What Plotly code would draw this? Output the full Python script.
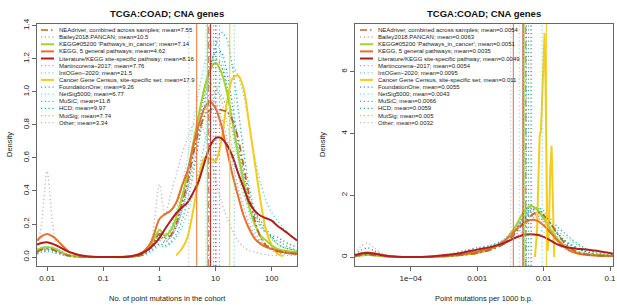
import plotly.graph_objects as go

TITLE = "TCGA:COAD; CNA genes"
XTITLE_LEFT = "No. of point mutations in the cohort"
XTITLE_RIGHT = "Point mutations per 1000 b.p."
YTITLE = "Density"

SERIES = ["NEAdriver, combined across samples", "Bailey2018.PANCAN",
          "KEGG#05200 'Pathways_in_cancer'", "KEGG, 5 general pathways",
          "Literature/KEGG site-specific pathway", "Martincorena\u22122017",
          "IntOGen\u22122020", "Cancer Gene Census, site-specific set",
          "FoundationOne", "NetSig5000", "MuSiC", "HCD", "MutSig", "Other"]
MEANS_LEFT = [7.55, 10.5, 7.14, 4.62, 8.16, 7.76, 21.5, 17.9, 9.26, 6.77, 11.8, 9.97, 7.74, 3.34]
MEANS_RIGHT = [0.0054, 0.0063, 0.0051, 0.0035, 0.0049, 0.0054, 0.0095, 0.011,
               0.0055, 0.0043, 0.0066, 0.0059, 0.005, 0.0032]

COLORS = ["#B8692A", "#A796AE", "#A2D42E", "#E8702A", "#B01E1E", "#D58CC8",
          "#5ED6D6", "#F5CC1A", "#4A8FD8", "#7ADCE4", "#3BB4A4", "#2EA872",
          "#8ED86C", "#BDBDBD"]
STYLES = ["dashdot", "dot", "solid", "solid", "solid", "dot", "dot", "solid",
          "dot", "dot", "dot", "dot", "dot", "dot"]

# ---- left panel: density of log10(no. of mutations) ----
GRID_LEFT_LOG = [-2.18, -2.1, -2.0, -1.9, -1.8, -1.6, -1.3, -1.0, -0.5, -0.3, -0.15, 0.0,
                 0.1, 0.2, 0.3, 0.4, 0.5, 0.6, 0.7, 0.8, 0.9, 1.0, 1.1, 1.2, 1.3, 1.4,
                 1.5, 1.6, 1.7, 1.8, 1.9, 2.0, 2.1, 2.2, 2.3, 2.45]

LEFT_NEADRIVER = [0.03, 0.045, 0.05, 0.045, 0.03, 0.008, 0, 0, 0.002, 0.015, 0.06, 0.14, 0.12, 0.13,
                  0.2, 0.32, 0.45, 0.62, 0.76, 0.85, 0.89, 0.9, 0.89, 0.88, 0.83, 0.72, 0.55, 0.37,
                  0.22, 0.12, 0.07, 0.05, 0.035, 0.03, 0.025, 0.02]
LEFT_BAILEY = [0.03, 0.04, 0.045, 0.04, 0.03, 0.008, 0, 0, 0.002, 0.02, 0.06, 0.12, 0.1, 0.12, 0.18,
               0.28, 0.4, 0.55, 0.7, 0.85, 0.96, 1.0, 0.98, 0.9, 0.76, 0.6, 0.44, 0.3, 0.19, 0.12,
               0.08, 0.05, 0.04, 0.03, 0.02, 0.02]
LEFT_KEGG05200 = [0.04, 0.055, 0.06, 0.055, 0.04, 0.01, 0, 0, 0.002, 0.02, 0.07, 0.165, 0.13, 0.16,
                  0.24, 0.36, 0.5, 0.68, 0.86, 1.02, 1.13, 1.175, 1.12, 1.0, 0.82, 0.63, 0.46, 0.3,
                  0.2, 0.13, 0.1, 0.07, 0.05, 0.04, 0.035, 0.03]
LEFT_KEGG5 = [0.10, 0.125, 0.14, 0.125, 0.095, 0.03, 0.003, 0, 0.005, 0.03, 0.09, 0.23, 0.26, 0.28,
              0.33, 0.43, 0.52, 0.67, 0.8, 0.9, 0.94, 0.9, 0.8, 0.65, 0.5, 0.37, 0.25, 0.17, 0.11,
              0.08, 0.06, 0.05, 0.04, 0.03, 0.025, 0.02]
LEFT_LITERATURE = [0.075, 0.085, 0.09, 0.08, 0.065, 0.03, 0.005, 0, 0.005, 0.025, 0.06, 0.115, 0.17,
                   0.22, 0.265, 0.3, 0.33, 0.39, 0.46, 0.57, 0.67, 0.72, 0.72, 0.68, 0.61, 0.51,
                   0.42, 0.33, 0.28, 0.25, 0.235, 0.22, 0.19, 0.165, 0.14, 0.10]
LEFT_MARTINCORENA = [0.03, 0.045, 0.05, 0.045, 0.03, 0.008, 0, 0, 0.002, 0.02, 0.07, 0.15, 0.13, 0.16,
                     0.24, 0.36, 0.5, 0.65, 0.8, 0.9, 0.95, 0.93, 0.85, 0.72, 0.57, 0.42, 0.3, 0.2,
                     0.13, 0.09, 0.06, 0.04, 0.03, 0.02, 0.02, 0.015]
LEFT_INTOGEN = [0.02, 0.03, 0.035, 0.03, 0.02, 0.005, 0, 0, 0, 0.01, 0.03, 0.07, 0.06, 0.08, 0.12,
                0.18, 0.27, 0.38, 0.52, 0.68, 0.84, 0.98, 1.08, 1.14, 1.15, 1.1, 0.98, 0.8, 0.6,
                0.45, 0.34, 0.27, 0.22, 0.18, 0.14, 0.1]
LEFT_CGC = [None, None, None, None, None, None, None, None, None, None, None, None, None, None,
            0.01, 0.05, 0.12, 0.28, 0.47, 0.6, 0.6, 0.58, 0.7, 0.93, 1.08, 1.1, 1.02, 0.8, 0.57,
            0.34, 0.16, 0.07, 0.02, 0.005, None, None]
LEFT_FOUNDATIONONE = [0.03, 0.04, 0.045, 0.04, 0.03, 0.008, 0, 0, 0.002, 0.015, 0.05, 0.1, 0.09, 0.12,
                      0.18, 0.28, 0.42, 0.6, 0.8, 0.98, 1.14, 1.24, 1.24, 1.12, 0.92, 0.7, 0.5,
                      0.35, 0.25, 0.18, 0.15, 0.13, 0.12, 0.1, 0.08, 0.06]
LEFT_NETSIG = [0.04, 0.05, 0.055, 0.05, 0.035, 0.01, 0, 0, 0.002, 0.02, 0.07, 0.15, 0.13, 0.18, 0.28,
               0.42, 0.6, 0.8, 1.0, 1.16, 1.27, 1.3, 1.22, 1.05, 0.82, 0.6, 0.4, 0.26, 0.16, 0.1,
               0.07, 0.05, 0.04, 0.03, 0.02, 0.02]
LEFT_MUSIC = [0.02, 0.03, 0.035, 0.03, 0.02, 0.005, 0, 0, 0, 0.01, 0.04, 0.08, 0.07, 0.09, 0.14,
              0.22, 0.34, 0.5, 0.7, 0.92, 1.12, 1.28, 1.36, 1.32, 1.15, 0.9, 0.64, 0.42, 0.28, 0.2,
              0.15, 0.12, 0.1, 0.08, 0.06, 0.04]
LEFT_HCD = [0.04, 0.055, 0.06, 0.055, 0.04, 0.01, 0, 0, 0.002, 0.02, 0.06, 0.13, 0.11, 0.14, 0.21,
            0.32, 0.47, 0.65, 0.85, 1.02, 1.15, 1.2, 1.16, 1.03, 0.84, 0.64, 0.46, 0.34, 0.27,
            0.22, 0.17, 0.12, 0.08, 0.06, 0.05, 0.04]
LEFT_MUTSIG = [0.045, 0.06, 0.065, 0.06, 0.045, 0.012, 0, 0, 0.002, 0.025, 0.08, 0.16, 0.14, 0.17,
               0.25, 0.37, 0.52, 0.7, 0.87, 0.99, 1.05, 1.03, 0.95, 0.82, 0.66, 0.5, 0.38, 0.3,
               0.25, 0.2, 0.15, 0.11, 0.08, 0.06, 0.05, 0.04]
LEFT_OTHER = [0.05, 0.2, 0.52, 0.2, 0.04, 0.005, 0, 0, 0.005, 0.03, 0.1, 0.44, 0.25, 0.38, 0.5,
              0.62, 0.72, 0.8, 0.82, 0.76, 0.62, 0.47, 0.34, 0.24, 0.16, 0.1, 0.06, 0.04, 0.03,
              0.02, 0.015, 0.01, 0.01, 0.01, 0.01, 0.01]

# ---- right panel: density of log10(mutations per 1000 b.p.) ----
GRID_RIGHT_LOG = [-4.84, -4.75, -4.65, -4.55, -4.4, -4.2, -4.0, -3.7, -3.4, -3.2, -3.0, -2.8,
                  -2.6, -2.45, -2.3, -2.2, -2.1, -2.0, -1.9, -1.8, -1.7, -1.6, -1.5, -1.4,
                  -1.3, -1.2, -1.1, -0.955]

RIGHT_NEADRIVER = [0.03, 0.06, 0.08, 0.06, 0.03, 0.005, 0, 0.005, 0.03, 0.07, 0.13, 0.23, 0.42,
                   0.72, 1.1, 1.32, 1.45, 1.35, 1.1, 0.78, 0.5, 0.3, 0.17, 0.1, 0.07, 0.05, 0.04, 0.03]
RIGHT_BAILEY = [0.03, 0.06, 0.08, 0.06, 0.03, 0.005, 0, 0.01, 0.05, 0.1, 0.17, 0.3, 0.55, 0.9,
                1.25, 1.38, 1.35, 1.15, 0.88, 0.6, 0.4, 0.25, 0.15, 0.1, 0.07, 0.05, 0.04, 0.03]
RIGHT_KEGG05200 = [0.02, 0.05, 0.07, 0.05, 0.02, 0.005, 0, 0.005, 0.03, 0.07, 0.13, 0.25, 0.5,
                   0.9, 1.45, 1.65, 1.55, 1.25, 0.9, 0.6, 0.38, 0.22, 0.13, 0.09, 0.07, 0.06, 0.05, 0.03]
RIGHT_KEGG5 = [0.05, 0.12, 0.15, 0.12, 0.05, 0.01, 0, 0.01, 0.05, 0.1, 0.17, 0.28, 0.5, 0.8, 1.1,
               1.2, 1.18, 1.02, 0.8, 0.55, 0.35, 0.2, 0.12, 0.08, 0.06, 0.05, 0.04, 0.03]
RIGHT_LITERATURE = [0.06, 0.11, 0.13, 0.11, 0.05, 0.01, 0, 0.02, 0.08, 0.15, 0.24, 0.32, 0.45,
                    0.6, 0.72, 0.74, 0.72, 0.65, 0.54, 0.42, 0.34, 0.3, 0.27, 0.25, 0.23, 0.2,
                    0.16, 0.11]
RIGHT_MARTINCORENA = [0.03, 0.07, 0.09, 0.07, 0.03, 0.005, 0, 0.01, 0.05, 0.1, 0.16, 0.28, 0.5,
                      0.85, 1.2, 1.32, 1.28, 1.08, 0.82, 0.56, 0.36, 0.22, 0.13, 0.09, 0.06, 0.05,
                      0.04, 0.03]
RIGHT_INTOGEN = [0.02, 0.04, 0.05, 0.04, 0.02, 0.005, 0, 0.01, 0.04, 0.08, 0.14, 0.24, 0.42, 0.66,
                 0.98, 1.2, 1.32, 1.3, 1.12, 0.88, 0.7, 0.55, 0.4, 0.28, 0.18, 0.12, 0.08, 0.05]
RIGHT_FOUNDATIONONE = [0.08, 0.22, 0.3, 0.2, 0.06, 0.01, 0, 0.02, 0.1, 0.2, 0.3, 0.38, 0.55, 0.85,
                       1.25, 1.5, 1.55, 1.38, 1.08, 0.78, 0.55, 0.4, 0.28, 0.18, 0.12, 0.08, 0.06,
                       0.04]
RIGHT_NETSIG = [0.04, 0.09, 0.12, 0.09, 0.04, 0.01, 0, 0.02, 0.08, 0.16, 0.26, 0.36, 0.55, 0.9,
                1.3, 1.5, 1.45, 1.2, 0.9, 0.62, 0.42, 0.28, 0.18, 0.12, 0.08, 0.06, 0.05, 0.04]
RIGHT_MUSIC = [0.02, 0.05, 0.06, 0.05, 0.02, 0.005, 0, 0.01, 0.06, 0.14, 0.25, 0.36, 0.52, 0.8,
               1.2, 1.45, 1.6, 1.5, 1.25, 1.0, 0.8, 0.62, 0.45, 0.32, 0.22, 0.15, 0.1, 0.06]
RIGHT_HCD = [0.04, 0.08, 0.1, 0.08, 0.04, 0.01, 0, 0.01, 0.06, 0.12, 0.2, 0.3, 0.5, 0.85, 1.3,
             1.55, 1.58, 1.4, 1.1, 0.8, 0.58, 0.42, 0.3, 0.2, 0.14, 0.1, 0.08, 0.06]
RIGHT_MUTSIG = [0.05, 0.1, 0.12, 0.1, 0.05, 0.01, 0, 0.01, 0.05, 0.1, 0.18, 0.3, 0.52, 0.88, 1.35,
                1.6, 1.55, 1.3, 0.98, 0.68, 0.46, 0.3, 0.2, 0.14, 0.1, 0.08, 0.06, 0.05]
RIGHT_OTHER = [0.1, 0.35, 0.45, 0.3, 0.08, 0.01, 0, 0.02, 0.08, 0.15, 0.22, 0.3, 0.42, 0.6, 0.85,
               0.98, 0.95, 0.8, 0.6, 0.42, 0.28, 0.18, 0.12, 0.08, 0.06, 0.04, 0.03, 0.02]
# Cancer Gene Census: narrow spikes, its own sampling grid
RIGHT_CGC_LOG = [-2.13, -2.1, -2.08, -2.06, -2.04, -2.02, -2.0, -1.985, -1.97, -1.955, -1.94,
                 -1.92, -1.9, -1.88, -1.86, -1.84]
RIGHT_CGC = [0, 0.8, 2.4, 3.9, 4.1, 5.2, 6.8, 7.25, 5.5, 2.0, 0.2, 0.9, 2.8, 3.6, 1.5, 0]

LEFT_Y = [LEFT_NEADRIVER, LEFT_BAILEY, LEFT_KEGG05200, LEFT_KEGG5, LEFT_LITERATURE,
          LEFT_MARTINCORENA, LEFT_INTOGEN, LEFT_CGC, LEFT_FOUNDATIONONE, LEFT_NETSIG,
          LEFT_MUSIC, LEFT_HCD, LEFT_MUTSIG, LEFT_OTHER]
RIGHT_Y = [RIGHT_NEADRIVER, RIGHT_BAILEY, RIGHT_KEGG05200, RIGHT_KEGG5, RIGHT_LITERATURE,
           RIGHT_MARTINCORENA, RIGHT_INTOGEN, RIGHT_CGC, RIGHT_FOUNDATIONONE, RIGHT_NETSIG,
           RIGHT_MUSIC, RIGHT_HCD, RIGHT_MUTSIG, RIGHT_OTHER]

LEFT_TICKS = [0.01, 0.1, 1, 10, 100]
LEFT_TICKTEXT = ["0.01", "0.1", "1", "10", "100"]
RIGHT_TICKS = [1e-4, 1e-3, 1e-2, 1e-1]
RIGHT_TICKTEXT = ["1e\u221204", "0.001", "0.01", "0.1"]
LEFT_YTICKS = [0.0, 0.2, 0.4, 0.6, 0.8, 1.0, 1.2, 1.4]
RIGHT_YTICKS = [0, 2, 4, 6]

W, H = 617, 305
FONT = "Liberation Sans, Arial, sans-serif"
DASH = {"solid": "solid", "dot": "1.2px,2.6px", "dashdot": "7px,3px,1.5px,3px"}


def line_style(k, curve=True):
    st = STYLES[k]
    if st == "solid":
        return dict(color=COLORS[k], dash="solid", width=2 if curve else 1)
    if st == "dashdot":
        return dict(color=COLORS[k], dash=DASH[st], width=1.8 if curve else 1)
    return dict(color=COLORS[k], dash=DASH[st], width=1.4 if curve else 1.0)


fig = go.Figure()

# draw dotted series first, solid ones on top
order = [i for i in range(14) if STYLES[i] == "dot"] + [7, 2, 3, 0, 4]
for i in order:
    ls = line_style(i)
    xl = [10 ** v for v in GRID_LEFT_LOG]
    fig.add_trace(go.Scatter(x=xl, y=LEFT_Y[i], mode="lines", xaxis="x", yaxis="y",
                             line=dict(shape="spline", smoothing=0.8, **ls),
                             showlegend=False, hoverinfo="skip"))
    if i == 7:
        xr = [10 ** v for v in RIGHT_CGC_LOG]
        shp = "linear"
    else:
        xr = [10 ** v for v in GRID_RIGHT_LOG]
        shp = "spline"
    fig.add_trace(go.Scatter(x=xr, y=RIGHT_Y[i], mode="lines", xaxis="x2", yaxis="y2",
                             line=dict(shape=shp, smoothing=0.8, **ls),
                             showlegend=False, hoverinfo="skip"))

shapes = []
# mean lines (full height)
for i in range(14):
    ls = line_style(i, curve=False)
    shapes.append(dict(type="line", xref="x", yref="y domain", x0=MEANS_LEFT[i], x1=MEANS_LEFT[i],
                       y0=0, y1=1, line=ls))
    shapes.append(dict(type="line", xref="x2", yref="y2 domain", x0=MEANS_RIGHT[i],
                       x1=MEANS_RIGHT[i], y0=0, y1=1, line=ls))

annotations = []
# legends drawn manually (compact rows, no box)
for means, lx0, tx in [(MEANS_LEFT, 41, 57), (MEANS_RIGHT, 360, 376)]:
    for k in range(14):
        ypx = 30 + k * 7.13
        yp = 1 - ypx / H
        ls = line_style(k)
        if STYLES[k] != "solid":
            ls["width"] = 1.3
        shapes.append(dict(type="line", xref="paper", yref="paper", x0=lx0 / W,
                           x1=(lx0 + 13) / W, y0=yp, y1=yp, line=ls))
        annotations.append(dict(xref="paper", yref="paper", x=tx / W, y=yp, xanchor="left",
                                yanchor="middle", showarrow=False,
                                text=f"{SERIES[k]}; mean={means[k]}",
                                font=dict(size=6, color="#222", family=FONT)))

# titles
for cx, xt, ycx in [(167, XTITLE_LEFT, 9), (484, XTITLE_RIGHT, 322)]:
    annotations.append(dict(xref="paper", yref="paper", x=cx / W, y=1 - 14 / H,
                            text=f"<b>{TITLE}</b>", showarrow=False, xanchor="center",
                            yanchor="middle", font=dict(size=9.5, color="#111", family=FONT)))
    annotations.append(dict(xref="paper", yref="paper", x=cx / W, y=1 - 298 / H, text=xt,
                            showarrow=False, xanchor="center", yanchor="middle",
                            font=dict(size=7.5, color="#222", family=FONT)))
    annotations.append(dict(xref="paper", yref="paper", x=ycx / W, y=1 - 145 / H, text=YTITLE,
                            showarrow=False, xanchor="center", yanchor="middle", textangle=-90,
                            font=dict(size=7.5, color="#222", family=FONT)))

ydom = [1 - 266 / H, 1 - 24 / H]
axis_common = dict(showline=True, mirror=True, linecolor="#666", linewidth=1, ticks="outside",
                   ticklen=4, tickcolor="#666", showgrid=False, zeroline=False,
                   automargin=False, tickfont=dict(size=8, color="#222", family=FONT))
fig.update_layout(
    width=W, height=H, margin=dict(l=0, r=0, t=0, b=0, autoexpand=False),
    paper_bgcolor="white", plot_bgcolor="white",
    xaxis=dict(type="log", domain=[37 / W, 297 / W], range=[-2.18, 2.45], anchor="y",
               tickvals=LEFT_TICKS, ticktext=LEFT_TICKTEXT, **axis_common),
    yaxis=dict(domain=ydom, range=[-0.054, 1.41], anchor="x", tickvals=LEFT_YTICKS,
               tickformat=".1f", tickangle=-90, **axis_common),
    xaxis2=dict(type="log", domain=[355 / W, 613 / W], range=[-4.84, -0.955], anchor="y2",
                tickvals=RIGHT_TICKS, ticktext=RIGHT_TICKTEXT, **axis_common),
    yaxis2=dict(domain=ydom, range=[-0.29, 7.54], anchor="x2", tickvals=RIGHT_YTICKS,
                tickangle=-90, **axis_common),
    shapes=shapes, annotations=annotations, showlegend=False,
)

fig.write_html("out.html", config={"displayModeBar": False},
               post_script="document.body.style.margin='0';document.body.style.overflow='hidden';")
